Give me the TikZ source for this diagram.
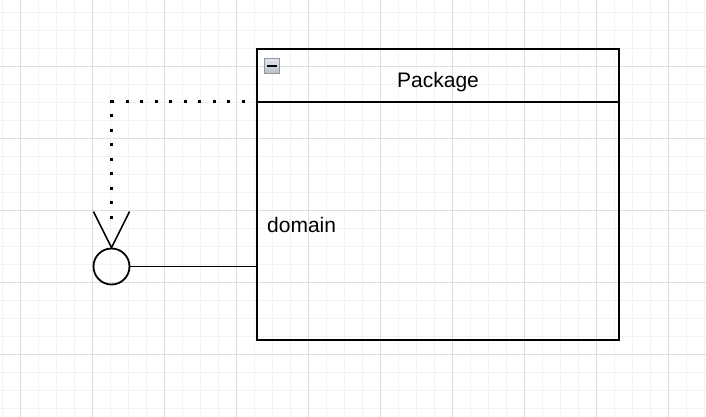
\documentclass[tikz,border=0pt]{standalone}
\usepackage{fontspec}
\setmainfont{Liberation Sans}
\usetikzlibrary{calc}
\definecolor{gridminor}{HTML}{F3F3F3}
\definecolor{gridmajor}{HTML}{DEDEDE}
\definecolor{icontop}{HTML}{E2E5EA}
\definecolor{iconbottom}{HTML}{B9BEC8}
\definecolor{iconedge}{HTML}{8E95A3}

\begin{document}
\begin{tikzpicture}[x=1pt,y=-1pt,
  pkgbox/.style={draw,line width=2pt,minimum width=362pt,minimum height=290pt,inner sep=0pt},
  iface/.style={draw,circle,line width=1.8pt,minimum size=36pt,inner sep=0pt},
  link/.style={line width=1.6pt},
  depend/.style={line width=3pt,dash pattern=on 3pt off 11.5pt,dash phase=3pt},
  lbl/.style={inner sep=0pt,font=\fontsize{21}{25}\selectfont}]
  \useasboundingbox (0,0) rectangle (706,417);
  % grid
  \foreach \x in {2,20,...,704} \draw[gridminor] (\x,0) -- (\x,417);
  \foreach \y in {12,30,...,416} \draw[gridminor] (0,\y) -- (706,\y);
  \foreach \x in {20,92,...,668} \draw[gridmajor] (\x,0) -- (\x,417);
  \foreach \y in {66,138,...,354} \draw[gridmajor] (0,\y) -- (706,\y);
  % package
  \node[pkgbox] (pkg) at (438,194.5) {};
  \coordinate (hdr) at ($(pkg.north west)+(0,53.5)$);
  \draw[line width=1.5pt] (hdr) -- (hdr -| pkg.east);
  \node[draw=iconedge,top color=icontop,bottom color=iconbottom,minimum size=15pt,inner sep=0pt] (toggle) at (272,66) {};
  \draw[line width=2pt] ($(toggle.center)+(-5,0)$) -- ($(toggle.center)+(5,0)$);
  \node[lbl,anchor=base] (title) at (438,88) {Package};
  \node[lbl,anchor=base west] (domain) at (267,232) {domain};
  % interface
  \node[iface] (lolly) at (111.5,266.5) {};
  \draw[link] (lolly.east) -- (lolly.east -| pkg.west);
  \coordinate (tail) at ($(lolly.north)+(0,-24)$);
  \draw[depend] (hdr) -| (tail);
  \draw[link] ($(lolly.north)+(-18,-36)$) -- (lolly.north) -- ($(lolly.north)+(18,-36)$);
\end{tikzpicture}
\end{document}
